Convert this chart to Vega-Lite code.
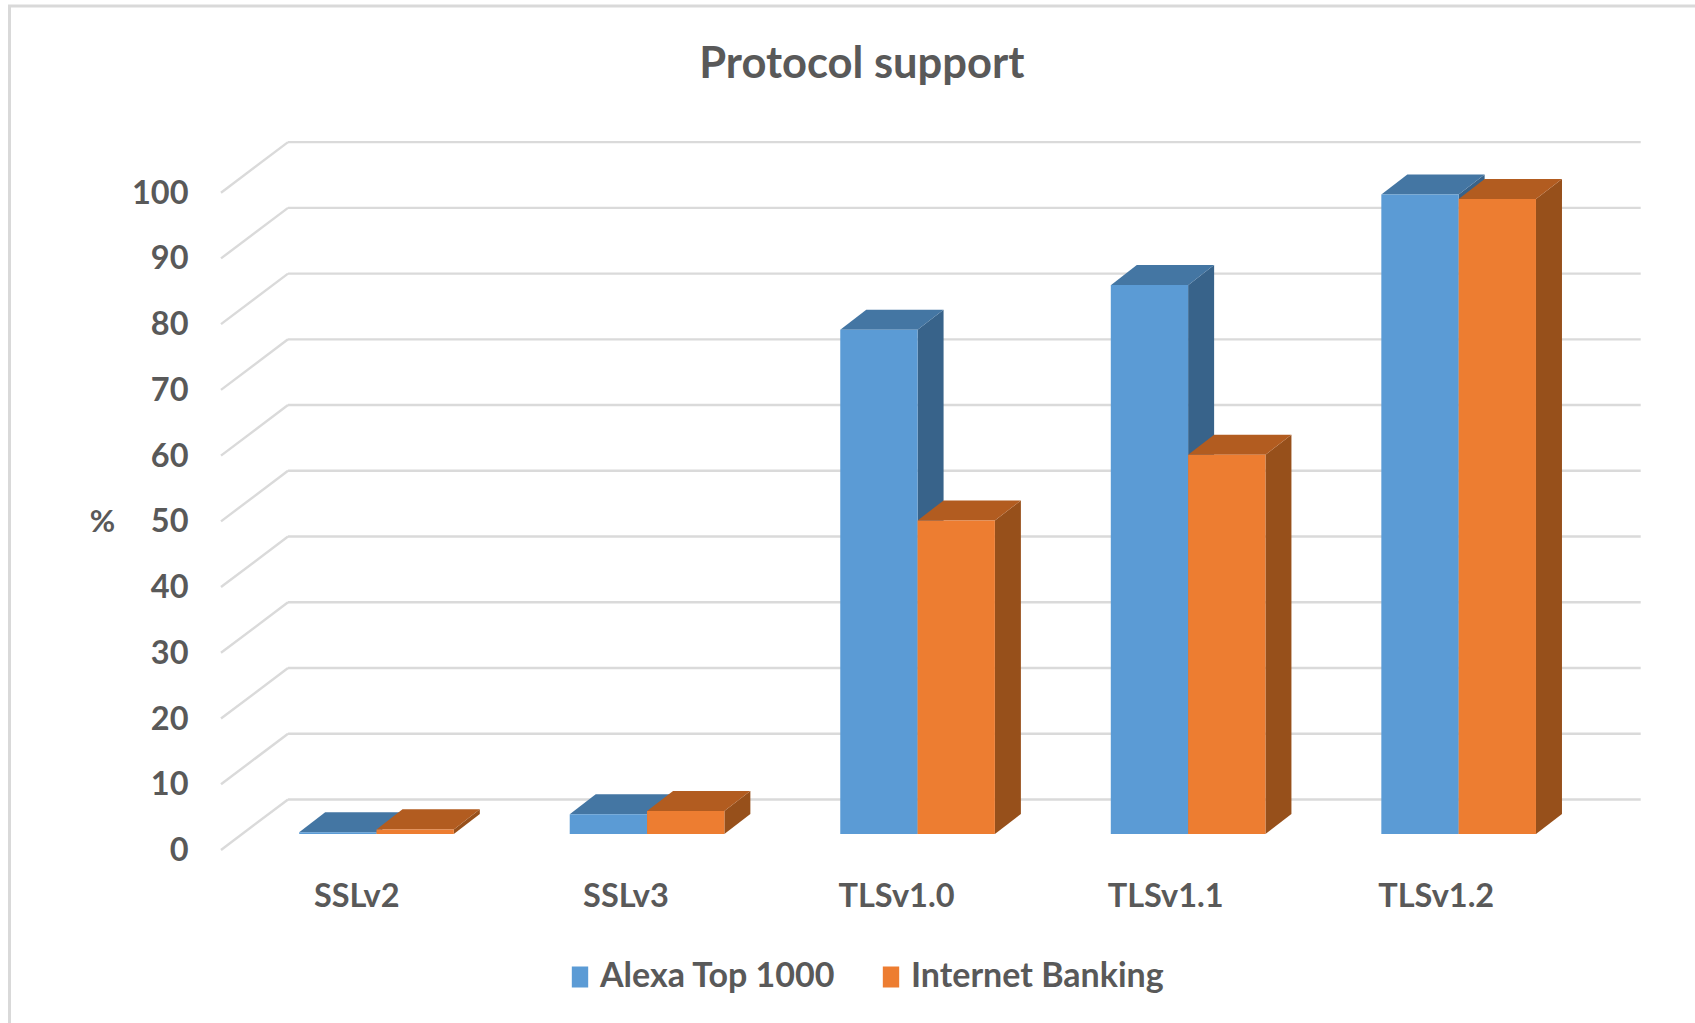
{
  "$schema": "https://vega.github.io/schema/vega-lite/v6.json",
  "width": 1419.7,
  "height": 708,
  "autosize": {"type": "none"},
  "padding": {"left": 221, "top": 142, "right": 54.3, "bottom": 173},
  "background": "white",
  "title": {
    "text": "Protocol support",
    "anchor": "middle",
    "dx": -69,
    "offset": -126,
    "baseline": "bottom",
    "font": "Lato",
    "fontWeight": "bold",
    "fontSize": 43.5,
    "color": "#595959"
  },
  "config": {
    "view": {"stroke": null},
    "axis": {
      "grid": false,
      "domain": false,
      "ticks": false,
      "labelFont": "Lato",
      "labelFontWeight": "bold",
      "labelFontSize": 32.5,
      "labelColor": "#595959",
      "labelOverlap": false,
      "labelBound": false,
      "labelFlush": false,
      "titleFont": "Lato",
      "titleFontWeight": "bold",
      "titleFontSize": 31,
      "titleColor": "#595959"
    },
    "legend": {
      "labelFont": "Lato",
      "labelFontWeight": "bold",
      "labelFontSize": 34,
      "labelColor": "#595959",
      "labelLimit": 400
    }
  },
  "encoding": {
    "x": {
      "field": "gx",
      "type": "quantitative",
      "scale": {"domain": [0, 5.2477], "nice": false, "zero": false},
      "axis": {
        "title": null,
        "values": [0.5, 1.495, 2.495, 3.49, 4.49],
        "labelExpr": "['SSLv2','SSLv3','TLSv1.0','TLSv1.1','TLSv1.2'][floor(datum.value)]",
        "labelPadding": 30
      }
    },
    "y": {
      "field": "gy",
      "type": "quantitative",
      "scale": {"domain": [0, 107.71], "nice": false, "zero": false},
      "axis": {
        "title": "%",
        "titleAngle": 0,
        "titleX": -119,
        "titleY": 396,
        "values": [0, 10, 20, 30, 40, 50, 60, 70, 80, 90, 100],
        "labelPadding": 33,
        "labelOffset": 0.5
      }
    }
  },
  "layer": [
    {
      "description": "Outer chart frame, running off the right and bottom of the canvas",
      "data": {"values": [{"part": "frame"}]},
      "transform": [
        {"calculate": "-0.7818", "as": "gx"},
        {"calculate": "5.6", "as": "gx2"},
        {"calculate": "128.4", "as": "gy"},
        {"calculate": "-30", "as": "gy2"}
      ],
      "mark": {"type": "rect", "fill": null, "stroke": "#D9D9D9", "strokeWidth": 3, "clip": false},
      "encoding": {
        "x2": {"field": "gx2"},
        "y2": {"field": "gy2"}
      }
    },
    {
      "description": "Floor-to-wall gridlines and back-wall gridlines",
      "data": {
        "values": [
          {"tick": 0}, {"tick": 10}, {"tick": 20}, {"tick": 30}, {"tick": 40}, {"tick": 50},
          {"tick": 60}, {"tick": 70}, {"tick": 80}, {"tick": 90}, {"tick": 100}
        ]
      },
      "layer": [
        {
          "transform": [
            {"calculate": "0", "as": "gx"},
            {"calculate": "0.2477", "as": "gx2"},
            {"calculate": "datum.tick", "as": "gy"},
            {"calculate": "datum.tick + 7.69", "as": "gy2"}
          ],
          "mark": {"type": "rule", "color": "#DADADA", "strokeWidth": 2.4},
          "encoding": {"x2": {"field": "gx2"}, "y2": {"field": "gy2"}}
        },
        {
          "transform": [
            {"calculate": "0.2477", "as": "gx"},
            {"calculate": "5.2477", "as": "gx2"},
            {"calculate": "datum.tick + 7.69", "as": "gy"}
          ],
          "mark": {"type": "rule", "color": "#DADADA", "strokeWidth": 2.4},
          "encoding": {"x2": {"field": "gx2"}}
        }
      ]
    },
    {
      "description": "Extruded bars: each series draws its side, top and front faces, Alexa first so Internet Banking overlaps it",
      "data": {
        "values": [
          {"protocol": "SSLv2", "series": "Alexa Top 1000", "value": 0.25},
          {"protocol": "SSLv2", "series": "Internet Banking", "value": 0.7},
          {"protocol": "SSLv3", "series": "Alexa Top 1000", "value": 3.0},
          {"protocol": "SSLv3", "series": "Internet Banking", "value": 3.5},
          {"protocol": "TLSv1.0", "series": "Alexa Top 1000", "value": 76.7},
          {"protocol": "TLSv1.0", "series": "Internet Banking", "value": 47.7},
          {"protocol": "TLSv1.1", "series": "Alexa Top 1000", "value": 83.5},
          {"protocol": "TLSv1.1", "series": "Internet Banking", "value": 57.7},
          {"protocol": "TLSv1.2", "series": "Alexa Top 1000", "value": 97.3},
          {"protocol": "TLSv1.2", "series": "Internet Banking", "value": 96.6}
        ]
      },
      "transform": [
        {"calculate": "indexof(['SSLv2','SSLv3','TLSv1.0','TLSv1.1','TLSv1.2'], datum.protocol) + 0.289 + (datum.series === 'Alexa Top 1000' ? 0 : 0.2858)", "as": "xl"},
        {"calculate": "2.436", "as": "yb"}
      ],
      "layer": [
        {
          "transform": [
            {"filter": "datum.series === 'Alexa Top 1000'"},
            {"calculate": "[datum.xl + 0.2858, datum.xl + 0.2858 + 0.0961]", "as": "gx"},
            {"calculate": "[datum.yb + datum.value, datum.yb + datum.value + 3.045]", "as": "gy"},
            {"calculate": "[datum.yb, datum.yb + 3.045]", "as": "gy2"},
            {"flatten": ["gx", "gy", "gy2"]}
          ],
          "mark": {"type": "area", "orient": "vertical", "color": "#38638A"},
          "encoding": {"y2": {"field": "gy2"}, "detail": {"field": "protocol"}}
        },
        {
          "transform": [
            {"filter": "datum.series === 'Alexa Top 1000'"},
            {"calculate": "[datum.xl, datum.xl + 0.0961]", "as": "gx"},
            {"calculate": "[datum.xl + 0.2858, datum.xl + 0.2858 + 0.0961]", "as": "gx2"},
            {"calculate": "[datum.yb + datum.value, datum.yb + datum.value + 3.045]", "as": "gy"},
            {"flatten": ["gx", "gx2", "gy"]}
          ],
          "mark": {"type": "area", "orient": "horizontal", "color": "#4476A3"},
          "encoding": {"x2": {"field": "gx2"}, "detail": {"field": "protocol"}}
        },
        {
          "transform": [
            {"filter": "datum.series === 'Alexa Top 1000'"},
            {"calculate": "datum.xl", "as": "gx"},
            {"calculate": "datum.xl + 0.2858", "as": "gx2"},
            {"calculate": "datum.yb + datum.value", "as": "gy"},
            {"calculate": "datum.yb", "as": "gy2"}
          ],
          "mark": {"type": "rect"},
          "encoding": {
            "x2": {"field": "gx2"},
            "y2": {"field": "gy2"},
            "color": {
              "field": "series",
              "type": "nominal",
              "scale": {"domain": ["Alexa Top 1000", "Internet Banking"], "range": ["#5B9BD5", "#ED7D31"]},
              "legend": {
                "title": null,
                "orient": "none",
                "direction": "horizontal",
                "columns": 2,
                "legendX": 342,
                "legendY": 818,
                "symbolType": "M-0.78,-1H0.78V1H-0.78Z",
                "symbolSize": 441,
                "symbolStrokeWidth": 0,
                "labelOffset": 3,
                "columnPadding": 38
              }
            }
          }
        },
        {
          "transform": [
            {"filter": "datum.series === 'Internet Banking'"},
            {"calculate": "[datum.xl + 0.2858, datum.xl + 0.2858 + 0.0961]", "as": "gx"},
            {"calculate": "[datum.yb + datum.value, datum.yb + datum.value + 3.045]", "as": "gy"},
            {"calculate": "[datum.yb, datum.yb + 3.045]", "as": "gy2"},
            {"flatten": ["gx", "gy", "gy2"]}
          ],
          "mark": {"type": "area", "orient": "vertical", "color": "#97501B"},
          "encoding": {"y2": {"field": "gy2"}, "detail": {"field": "protocol"}}
        },
        {
          "transform": [
            {"filter": "datum.series === 'Internet Banking'"},
            {"calculate": "[datum.xl, datum.xl + 0.0961]", "as": "gx"},
            {"calculate": "[datum.xl + 0.2858, datum.xl + 0.2858 + 0.0961]", "as": "gx2"},
            {"calculate": "[datum.yb + datum.value, datum.yb + datum.value + 3.045]", "as": "gy"},
            {"flatten": ["gx", "gx2", "gy"]}
          ],
          "mark": {"type": "area", "orient": "horizontal", "color": "#B25C20"},
          "encoding": {"x2": {"field": "gx2"}, "detail": {"field": "protocol"}}
        },
        {
          "transform": [
            {"filter": "datum.series === 'Internet Banking'"},
            {"calculate": "datum.xl", "as": "gx"},
            {"calculate": "datum.xl + 0.2858", "as": "gx2"},
            {"calculate": "datum.yb + datum.value", "as": "gy"},
            {"calculate": "datum.yb", "as": "gy2"}
          ],
          "mark": {"type": "rect"},
          "encoding": {
            "x2": {"field": "gx2"},
            "y2": {"field": "gy2"},
            "color": {
              "field": "series",
              "type": "nominal",
              "scale": {"domain": ["Alexa Top 1000", "Internet Banking"], "range": ["#5B9BD5", "#ED7D31"]}
            }
          }
        }
      ]
    }
  ]
}
